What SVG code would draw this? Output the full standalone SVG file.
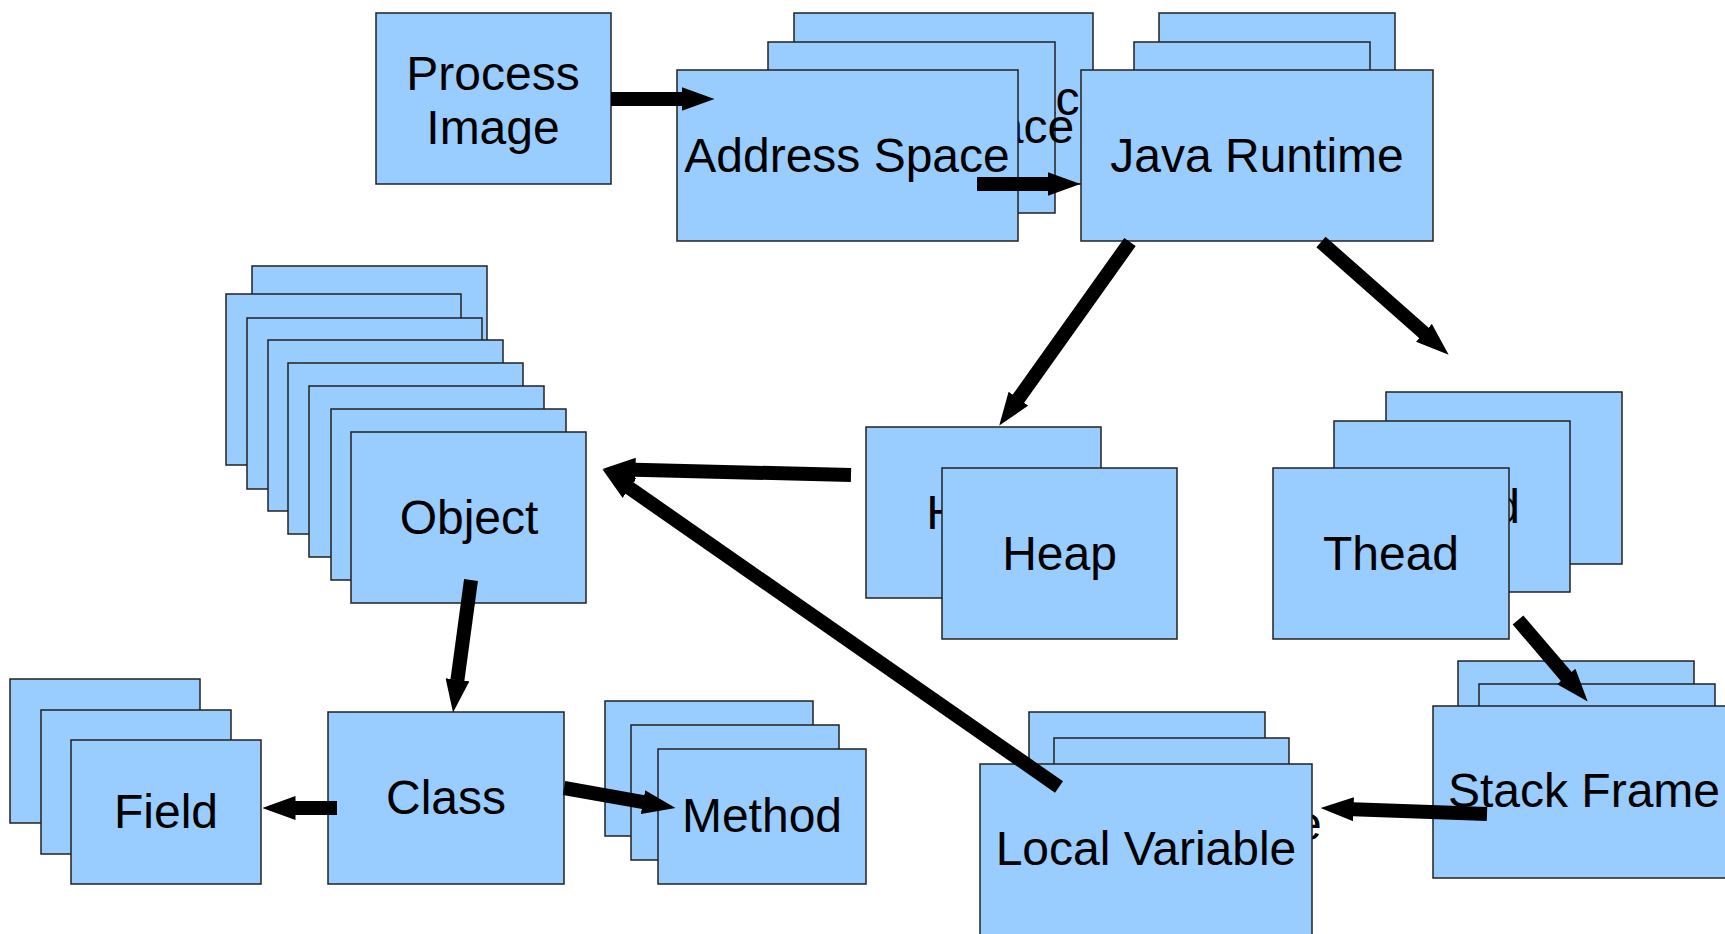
<svg xmlns="http://www.w3.org/2000/svg" width="1725" height="934" viewBox="0 0 1725 934">
<style>
.b{fill:#99ccff;stroke:#222;stroke-width:1.5}
.t{font-family:"Liberation Sans",Arial,sans-serif;font-size:48px;fill:#000;text-anchor:middle}
.c{stroke:#000;stroke-width:14;fill:none;stroke-linecap:butt;marker-end:url(#ah)}
</style>
<defs>
<marker id="ah" markerUnits="userSpaceOnUse" viewBox="0 -12 33 24" refX="0.5" refY="0" markerWidth="33" markerHeight="24" orient="auto">
<path d="M0,-12 L33,0 L0,12 Z" fill="#000"/>
</marker>
</defs>
<rect width="1725" height="934" fill="#fff"/>
<g id="process-image">
<rect class="b" x="376" y="13" width="235" height="171"/>
<text class="t" x="493" y="90">Process</text>
<text class="t" x="493" y="144">Image</text>
</g>
<g id="address-space">
<rect class="b" x="794" y="13" width="299" height="171"/>
<text class="t" x="943.5" y="115">Address Space</text>
<rect class="b" x="768" y="42" width="287" height="171"/>
<text class="t" x="911.5" y="143">Address Space</text>
<rect class="b" x="677" y="70" width="341" height="171"/>
<text class="t" x="847" y="172">Address Space</text>
</g>
<g id="java-runtime">
<rect class="b" x="1159" y="13" width="236" height="171"/>
<rect class="b" x="1134" y="42" width="236" height="171"/>
<rect class="b" x="1081" y="70" width="352" height="171"/>
<text class="t" x="1257" y="172">Java Runtime</text>
</g>
<g id="heap">
<rect class="b" x="866" y="427" width="235" height="171"/>
<text class="t" x="983.5" y="529">Heap</text>
<rect class="b" x="942" y="468" width="235" height="171"/>
<text class="t" x="1059.5" y="570">Heap</text>
</g>
<g id="thread">
<rect class="b" x="1386" y="392" width="236" height="172"/>
<rect class="b" x="1334" y="421" width="236" height="171"/>
<text class="t" x="1452" y="523">Thead</text>
<rect class="b" x="1273" y="468" width="236" height="171"/>
<text class="t" x="1391" y="570">Thead</text>
</g>
<g id="object">
<rect class="b" x="252" y="266" width="235" height="171"/>
<rect class="b" x="226" y="294" width="235" height="171"/>
<rect class="b" x="247" y="318" width="235" height="171"/>
<rect class="b" x="268" y="340" width="235" height="171"/>
<rect class="b" x="288" y="363" width="235" height="171"/>
<rect class="b" x="309" y="386" width="235" height="171"/>
<rect class="b" x="331" y="409" width="235" height="171"/>
<rect class="b" x="351" y="432" width="235" height="171"/>
<text class="t" x="469" y="534">Object</text>
</g>
<g id="field">
<rect class="b" x="10" y="679" width="190" height="144"/>
<rect class="b" x="41" y="710" width="190" height="144"/>
<rect class="b" x="71" y="740" width="190" height="144"/>
<text class="t" x="166" y="828">Field</text>
</g>
<g id="class">
<rect class="b" x="328" y="712" width="236" height="172"/>
<text class="t" x="446" y="814">Class</text>
</g>
<g id="method">
<rect class="b" x="605" y="701" width="208" height="135"/>
<rect class="b" x="631" y="725" width="208" height="135"/>
<rect class="b" x="658" y="749" width="208" height="135"/>
<text class="t" x="762" y="832">Method</text>
</g>
<g id="local-variable">
<rect class="b" x="1029" y="712" width="236" height="171"/>
<rect class="b" x="1054" y="738" width="235" height="171"/>
<text class="t" x="1171.5" y="840">Local Variable</text>
<rect class="b" x="980" y="764" width="332" height="171"/>
<text class="t" x="1146" y="865">Local Variable</text>
</g>
<g id="stack-frame">
<rect class="b" x="1458" y="661" width="236" height="171"/>
<rect class="b" x="1479" y="684" width="236" height="171"/>
<rect class="b" x="1433" y="706" width="310" height="172"/>
<text class="t" x="1584" y="807">Stack Frame</text>
</g>
<g id="connectors">
<line class="c" x1="611" y1="99" x2="682" y2="99"/>
<line class="c" x1="977" y1="184" x2="1048" y2="184"/>
<line class="c" x1="1130" y1="242" x2="1018.1" y2="399.1"/>
<line class="c" x1="1321" y1="242" x2="1424.3" y2="333.2"/>
<line class="c" x1="851" y1="475" x2="635" y2="469.8"/>
<line class="c" x1="1059" y1="787" x2="629.1" y2="487.8"/>
<line class="c" x1="471" y1="580" x2="457.4" y2="680.3"/>
<line class="c" x1="337" y1="808" x2="295" y2="808"/>
<line class="c" x1="564" y1="788" x2="643.5" y2="802.2"/>
<line class="c" x1="1518" y1="620" x2="1566.6" y2="676.9"/>
<line class="c" x1="1487" y1="814" x2="1353" y2="809.2"/>
</g>
</svg>
